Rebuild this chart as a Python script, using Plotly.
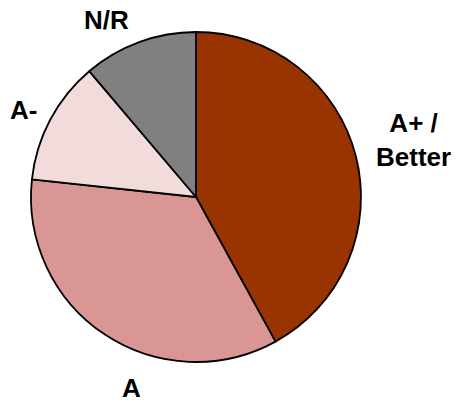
import plotly.graph_objects as go

# Rating distribution shares (percent)
categories = ["A+ /<br>Better", "A", "A-", "N/R"]
shares = [42.0, 34.7, 12.1, 11.2]
colors = ["#993300", "#D99694", "#F2DCDB", "#808080"]

# label placement in pixels (centre of each text block)
label_px = [(413, 140), (131, 388), (23, 110), (106, 20)]

W, H = 457, 402
cx, cy, r = 196, 197, 165

fig = go.Figure(
    go.Pie(
        labels=categories,
        values=shares,
        sort=False,
        direction="clockwise",
        rotation=0,
        marker=dict(colors=colors, line=dict(color="#000000", width=1.8)),
        textinfo="none",
        hoverinfo="label+percent",
        domain=dict(x=[(cx - r) / W, (cx + r) / W], y=[1 - (cy + r) / H, 1 - (cy - r) / H]),
        showlegend=False,
    )
)

for text, (px, py) in zip(categories, label_px):
    fig.add_annotation(
        text=text,
        x=px / W,
        y=1 - py / H,
        xref="paper",
        yref="paper",
        xanchor="center",
        yanchor="middle",
        showarrow=False,
        font=dict(family="Liberation Sans, Arial", size=26, color="#000000", weight="bold"),
    )

fig.update_layout(
    width=W,
    height=H,
    margin=dict(l=0, r=0, t=0, b=0),
    paper_bgcolor="#FFFFFF",
    plot_bgcolor="#FFFFFF",
    font=dict(family="Liberation Sans, Arial"),
)

fig.write_html("out.html")
